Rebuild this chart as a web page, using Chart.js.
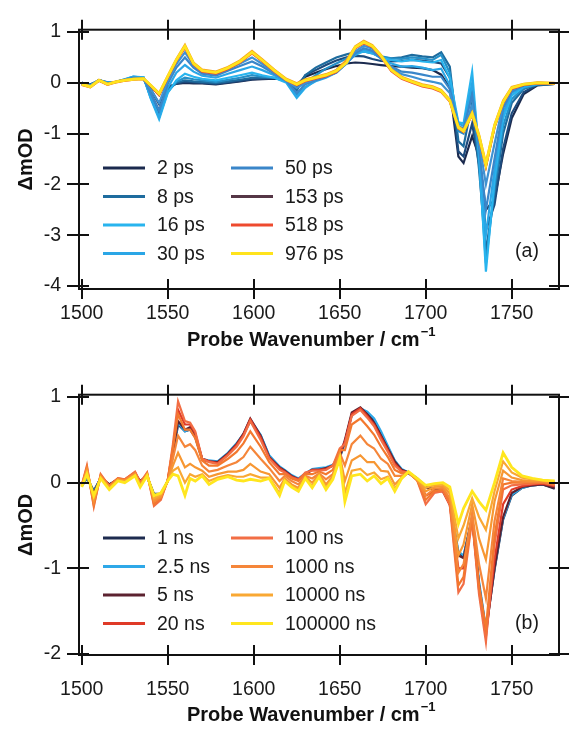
<!DOCTYPE html>
<html lang="en">
<head>
<meta charset="UTF-8">
<title>Transient IR spectra</title>
<style>
  html, body { margin: 0; padding: 0; background: #fff; }
  #wrap { width: 570px; height: 731px; }
  canvas { display: block; }
</style>
</head>
<body>
<div id="wrap">
  <canvas id="panelA" width="570" height="365"></canvas>
  <canvas id="panelB" width="570" height="366"></canvas>
</div>
<script src="https://cdn.jsdelivr.net/npm/chart.js@4.4.0/dist/chart.umd.min.js"></script>
<script>
// ---- panel (a): ps spectra ----
const wnA = [1500,1505,1510,1515,1520,1525,1530,1536,1540,1545,1550,1555,1560,1565,1570,1578,1585,1592,1599,1605,
             1612,1619,1625,1630,1636,1642,1648,1654,1659,1664,1669,1674,1680,1686,1692,1698,1704,1709,1714,1719,
             1722,1727,1731,1735,1740,1745,1750,1757,1765,1775];

const a_2ps   = [0.0,-0.03,0.04,0.0,0.02,0.06,0.11,0.07, -0.12,-0.42,-0.08,-0.02,0.0,-0.01,-0.01,-0.03,0.0,0.03,0.06,0.07,0.08,0.06,-0.04,0.12,0.2,0.27,0.33,0.38,0.4,0.39,0.37,0.35,0.33,0.32,0.3,0.29,0.25,0.16,-0.1,-1.45,-1.58,-1.05,-1.45,-2.5,-2.3,-1.4,-0.7,-0.22,-0.05,-0.02];
const a_5ps   = [0.0,-0.04,0.05,0.0,0.02,0.06,0.1,0.08, -0.2,-0.55,-0.12,-0.01,0.02,0.01,0.0,-0.02,0.01,0.04,0.07,0.08,0.09,0.06,-0.1,0.15,0.25,0.35,0.44,0.5,0.53,0.52,0.47,0.43,0.42,0.43,0.45,0.44,0.41,0.38,0.1,-1.35,-1.45,-0.8,-1.6,-2.9,-2.4,-1.3,-0.6,-0.18,-0.04,-0.02];
const a_8ps   = [0.0,-0.04,0.05,0.01,0.02,0.06,0.11,0.1, -0.25,-0.62,-0.15,0.0,0.05,0.03,0.02,0.0,0.03,0.06,0.1,0.1,0.1,0.05,-0.15,0.15,0.3,0.4,0.5,0.56,0.6,0.62,0.58,0.5,0.48,0.5,0.55,0.52,0.5,0.6,0.32,-1.15,-1.25,-0.4,-1.7,-3.3,-2.2,-1.0,-0.4,-0.12,-0.03,-0.02];
const a_12ps  = [0.0,-0.04,0.05,0.01,0.02,0.06,0.11,0.1, -0.28,-0.68,-0.18,0.02,0.1,0.07,0.05,0.02,0.06,0.1,0.15,0.12,0.1,0.02,-0.25,0.0,0.15,0.28,0.38,0.48,0.58,0.63,0.6,0.52,0.48,0.47,0.5,0.48,0.45,0.55,0.2,-0.95,-1.0,-0.1,-1.55,-3.55,-2.05,-0.85,-0.32,-0.1,-0.03,-0.02];
const a_16ps  = [-0.01,-0.05,0.05,0.0,0.02,0.07,0.12,0.11, -0.3,-0.72,-0.2,0.05,0.18,0.12,0.08,0.05,0.1,0.15,0.2,0.15,0.1,0.0,-0.3,-0.1,0.05,0.15,0.25,0.4,0.55,0.62,0.58,0.5,0.45,0.42,0.45,0.42,0.4,0.45,0.1,-0.78,-0.8,0.22,-1.4,-3.72,-1.9,-0.7,-0.25,-0.08,-0.02,-0.01];
const a_30ps  = [-0.01,-0.05,0.05,0.0,0.02,0.07,0.12,0.1, -0.28,-0.68,-0.1,0.2,0.35,0.22,0.14,0.1,0.18,0.25,0.32,0.25,0.15,0.02,-0.28,-0.08,0.03,0.1,0.2,0.38,0.56,0.65,0.6,0.48,0.38,0.32,0.33,0.3,0.25,0.28,-0.05,-0.8,-0.85,0.0,-1.35,-3.0,-1.7,-0.6,-0.2,-0.06,-0.02,-0.01];
const a_50ps  = [-0.02,-0.06,0.05,-0.01,0.02,0.06,0.1,0.09, -0.2,-0.55,-0.02,0.3,0.5,0.3,0.18,0.14,0.24,0.33,0.42,0.32,0.18,0.04,-0.2,-0.03,0.05,0.12,0.2,0.38,0.58,0.68,0.63,0.48,0.32,0.22,0.2,0.16,0.12,0.12,-0.12,-0.85,-0.9,-0.25,-1.25,-2.5,-1.5,-0.5,-0.17,-0.05,-0.01,-0.01];
const a_80ps  = [-0.02,-0.07,0.05,-0.02,0.02,0.05,0.08,0.08, -0.12,-0.4,0.05,0.37,0.6,0.35,0.22,0.17,0.27,0.38,0.5,0.37,0.2,0.05,-0.1,0.0,0.07,0.13,0.2,0.4,0.62,0.73,0.67,0.5,0.3,0.17,0.12,0.06,0.02,-0.02,-0.2,-0.88,-0.93,-0.45,-1.15,-2.0,-1.2,-0.42,-0.14,-0.04,-0.01,-0.01];
const a_153ps = [-0.03,-0.08,0.05,-0.03,0.02,0.05,0.07,0.08, -0.06,-0.24,0.11,0.44,0.7,0.37,0.23,0.19,0.28,0.42,0.59,0.43,0.23,0.06,-0.04,0.04,0.09,0.14,0.22,0.42,0.69,0.79,0.71,0.52,0.25,0.1,0.02,-0.05,-0.09,-0.16,-0.35,-0.89,-0.96,-0.62,-1.06,-1.64,-0.87,-0.39,-0.11,-0.04,0.0,-0.01];
const a_300ps = [-0.02,-0.07,0.06,-0.02,0.03,0.06,0.08,0.09, -0.04,-0.2,0.14,0.47,0.75,0.4,0.26,0.22,0.31,0.44,0.63,0.46,0.26,0.08,-0.01,0.07,0.12,0.17,0.25,0.45,0.72,0.83,0.74,0.55,0.27,0.12,0.04,-0.03,-0.07,-0.14,-0.33,-0.86,-0.93,-0.58,-1.02,-1.58,-0.82,-0.35,-0.08,-0.02,0.01,0.0];
const a_518ps = [-0.04,-0.09,0.04,-0.04,0.01,0.04,0.06,0.07, -0.06,-0.24,0.1,0.43,0.69,0.36,0.22,0.18,0.27,0.4,0.58,0.42,0.22,0.05,-0.05,0.03,0.08,0.13,0.21,0.41,0.68,0.78,0.7,0.51,0.23,0.08,0.0,-0.07,-0.11,-0.18,-0.37,-0.9,-0.97,-0.63,-1.08,-1.66,-0.88,-0.4,-0.12,-0.04,-0.01,-0.02];
const a_976ps = [-0.03,-0.08,0.05,-0.03,0.02,0.05,0.07,0.08, -0.05,-0.22,0.12,0.45,0.72,0.38,0.24,0.2,0.29,0.42,0.6,0.44,0.24,0.06,-0.03,0.05,0.1,0.15,0.23,0.4,0.7,0.8,0.72,0.53,0.25,0.1,0.02,-0.05,-0.09,-0.16,-0.35,-0.88,-0.95,-0.61,-1.05,-1.62,-0.85,-0.38,-0.1,-0.03,0.0,-0.01];

const delaysA = ['2 ps','5 ps','8 ps','12 ps','16 ps','30 ps','50 ps','80 ps','153 ps','300 ps','518 ps','976 ps'];
const valuesA = [a_2ps,a_5ps,a_8ps,a_12ps,a_16ps,a_30ps,a_50ps,a_80ps,a_153ps,a_300ps,a_518ps,a_976ps];
const colorsA = ['#1b2a4e','#1d4a7c','#1e6c9e','#2590c8','#28b4ee','#2aa6e6','#3a86c9','#3f92d2','#553646','#f6a21c','#ee4a2e','#ffe31c'];
const legendA = ['2 ps','8 ps','16 ps','30 ps','50 ps','153 ps','518 ps','976 ps'];
const yTicksA = [-4,-3,-2,-1,0,1];

// ---- panel (b): ns spectra ----
const wnB = [1500,1503,1507,1511,1516,1521,1525,1531,1534,1538,1542,1546,1550,1553,1556,1560,1563,1566,1570,1574,
             1579,1585,1590,1594,1598,1604,1609,1615,1618,1622,1626,1630,1634,1638,1642,1646,1650,1653,1657,1662,
             1666,1670,1674,1678,1682,1686,1690,1695,1700,1705,1710,1714,1719,1722,1727,1731,1735,1740,1745,1750,
             1756,1762,1768,1775];

const b_1ns      = [-0.04,0.05,-0.09,0.05,-0.02,0.03,0.03,0.08,0.02,0.07,-0.13,-0.13,0.02,0.32,0.68,0.6,0.62,0.53,0.27,0.25,0.24,0.34,0.45,0.56,0.72,0.55,0.31,0.18,0.14,0.08,0.04,0.1,0.15,0.16,0.17,0.2,0.29,0.47,0.79,0.86,0.81,0.72,0.57,0.41,0.25,0.15,0.11,0.04,-0.05,-0.08,-0.1,-0.24,-0.82,-0.86,-0.42,-1.18,-1.72,-1.02,-0.43,-0.15,-0.06,-0.03,-0.02,-0.07];
const b_2_5ns    = [-0.04,0.06,-0.1,0.05,-0.02,0.04,0.03,0.09,0.02,0.07,-0.14,-0.14,0.02,0.33,0.7,0.6,0.63,0.54,0.28,0.26,0.25,0.35,0.46,0.57,0.74,0.56,0.32,0.19,0.15,0.09,0.05,0.11,0.16,0.17,0.18,0.21,0.3,0.48,0.8,0.87,0.83,0.75,0.6,0.43,0.26,0.16,0.12,0.05,-0.04,-0.07,-0.09,-0.22,-0.8,-0.85,-0.4,-1.15,-1.7,-1.0,-0.42,-0.14,-0.06,-0.03,-0.02,-0.05];
const b_5ns      = [-0.03,0.08,-0.12,0.06,-0.02,0.04,0.03,0.1,0.02,0.08,-0.15,-0.15,0.02,0.35,0.72,0.62,0.65,0.55,0.28,0.25,0.24,0.34,0.45,0.57,0.75,0.55,0.3,0.18,0.14,0.08,0.04,0.1,0.15,0.15,0.17,0.2,0.3,0.5,0.82,0.88,0.8,0.7,0.55,0.4,0.25,0.15,0.12,0.05,-0.05,-0.08,-0.1,-0.25,-0.85,-0.88,-0.4,-1.2,-1.75,-1.0,-0.4,-0.12,-0.05,-0.03,-0.02,-0.06];
const b_20ns     = [-0.03,0.14,-0.2,0.08,-0.03,0.05,0.04,0.12,0.01,0.1,-0.2,-0.17,0.03,0.4,0.85,0.68,0.68,0.58,0.28,0.25,0.23,0.33,0.44,0.56,0.74,0.53,0.29,0.17,0.13,0.07,0.04,0.11,0.15,0.15,0.16,0.2,0.35,0.48,0.8,0.87,0.78,0.68,0.53,0.38,0.22,0.14,0.12,0.04,-0.15,-0.1,-0.1,-0.26,-1.0,-1.0,-0.42,-1.25,-1.8,-0.9,-0.25,-0.08,-0.04,-0.02,-0.01,-0.04];
const b_100ns    = [-0.03,0.2,-0.28,0.1,-0.04,0.05,0.04,0.13,0.0,0.12,-0.27,-0.2,0.03,0.45,0.95,0.72,0.7,0.6,0.28,0.24,0.22,0.32,0.42,0.54,0.72,0.5,0.28,0.15,0.12,0.06,0.03,0.12,0.14,0.14,0.15,0.2,0.4,0.45,0.78,0.85,0.76,0.66,0.5,0.36,0.2,0.13,0.12,0.03,-0.25,-0.12,-0.1,-0.26,-1.28,-1.18,-0.43,-1.3,-1.86,-0.72,-0.08,-0.03,-0.02,-0.01,0.0,-0.03];
const b_300ns    = [-0.03,0.18,-0.26,0.09,-0.04,0.05,0.03,0.12,-0.01,0.11,-0.25,-0.18,0.03,0.4,0.8,0.62,0.62,0.52,0.26,0.2,0.2,0.28,0.36,0.46,0.6,0.42,0.24,0.1,0.1,0.05,0.02,0.1,0.1,0.13,0.1,0.15,0.38,0.38,0.68,0.75,0.66,0.56,0.42,0.3,0.15,0.11,0.12,0.03,-0.2,-0.1,-0.08,-0.22,-1.2,-1.1,-0.4,-1.2,-1.7,-0.62,-0.02,0.0,0.0,0.0,0.0,-0.02];
const b_1000ns   = [-0.04,0.16,-0.23,0.08,-0.05,0.04,0.03,0.11,-0.02,0.1,-0.22,-0.17,0.02,0.28,0.55,0.42,0.45,0.38,0.2,0.13,0.15,0.2,0.24,0.3,0.42,0.28,0.17,0.02,0.08,0.02,-0.02,0.08,0.05,0.11,0.04,0.1,0.35,0.2,0.45,0.55,0.45,0.4,0.28,0.22,0.08,0.08,0.12,0.03,-0.15,-0.07,-0.06,-0.18,-1.05,-0.95,-0.35,-0.95,-1.35,-0.45,0.05,0.02,0.01,0.01,0.01,-0.01];
const b_3000ns   = [-0.04,0.14,-0.2,0.07,-0.06,0.04,0.02,0.1,-0.03,0.1,-0.2,-0.16,0.02,0.2,0.35,0.18,0.22,0.18,0.14,0.07,0.1,0.13,0.13,0.15,0.22,0.13,0.1,-0.06,0.05,-0.02,-0.06,0.07,0.0,0.1,-0.02,0.08,0.32,0.02,0.26,0.32,0.24,0.24,0.14,0.13,-0.02,0.06,0.12,0.03,-0.1,-0.05,-0.04,-0.13,-0.85,-0.72,-0.25,-0.65,-0.9,-0.22,0.14,0.06,0.03,0.02,0.02,0.0];
const b_10000ns  = [-0.04,0.12,-0.17,0.06,-0.07,0.03,0.01,0.09,-0.04,0.09,-0.18,-0.14,0.02,0.14,0.18,0.0,0.1,0.07,0.1,0.02,0.06,0.09,0.07,0.07,0.1,0.06,0.06,-0.12,0.03,-0.04,-0.08,0.06,-0.04,0.08,-0.06,0.06,0.3,-0.12,0.14,0.16,0.09,0.12,0.04,0.07,-0.07,0.05,0.12,0.04,-0.06,-0.03,-0.02,-0.09,-0.65,-0.5,-0.18,-0.4,-0.55,-0.1,0.25,0.12,0.06,0.04,0.03,0.01];
const b_100000ns = [-0.05,0.1,-0.15,0.05,-0.08,0.02,0.0,0.08,-0.05,0.08,-0.15,-0.12,0.02,0.1,0.08,-0.15,0.05,0.02,0.08,-0.02,0.04,0.07,0.03,0.02,0.04,0.02,0.05,-0.15,0.02,-0.05,-0.1,0.05,-0.06,0.07,-0.08,0.04,0.28,-0.22,0.08,0.1,0.02,0.08,-0.01,0.05,-0.1,0.05,0.13,0.05,-0.03,-0.01,0.0,-0.05,-0.48,-0.3,-0.1,-0.22,-0.32,0.0,0.35,0.18,0.08,0.05,0.03,0.02];

const delaysB = ['1 ns','2.5 ns','5 ns','20 ns','100 ns','300 ns','1000 ns','3000 ns','10000 ns','100000 ns'];
const valuesB = [b_1ns,b_2_5ns,b_5ns,b_20ns,b_100ns,b_300ns,b_1000ns,b_3000ns,b_10000ns,b_100000ns];
const colorsB = ['#1d2b4f','#2ea8e8','#5c2230','#df3a28','#f26e45','#f3782e','#f5863a','#f79732','#f9a833','#ffe61e'];
const legendB = ['1 ns','2.5 ns','5 ns','20 ns','100 ns','1000 ns','10000 ns','100000 ns'];
const yTicksB = [-2,-1,0,1];

const xTicks = [1500,1550,1600,1650,1700,1750];

const FONT = '"Liberation Sans", Arial, Helvetica, sans-serif';

// box frame with Igor-style crossing ticks, titles, legend and panel tag
const framePlugin = {
  id: 'frame',
  afterDraw(chart, args, o) {
    const {ctx, chartArea: a, scales: {x, y}} = chart;
    ctx.save();
    ctx.strokeStyle = '#111';
    ctx.lineWidth = 2;
    ctx.strokeRect(a.left, a.top, a.right - a.left, a.bottom - a.top);
    ctx.beginPath();
    xTicks.forEach(v => {
      const p = Math.round(x.getPixelForValue(v));
      ctx.moveTo(p, a.top - 10); ctx.lineTo(p, a.top + 10);
      ctx.moveTo(p, a.bottom - 10); ctx.lineTo(p, a.bottom + 10);
    });
    o.yTicks.forEach(v => {
      const p = Math.round(y.getPixelForValue(v));
      ctx.moveTo(a.left - 12, p); ctx.lineTo(a.left + 10, p);
      ctx.moveTo(a.right - 10, p); ctx.lineTo(a.right + 10, p);
    });
    ctx.stroke();

    ctx.fillStyle = '#111';
    ctx.textBaseline = 'middle';

    // x title with superscript
    ctx.font = 'bold 20px ' + FONT;
    ctx.textAlign = 'left';
    const t = 'Probe Wavenumber / cm';
    ctx.fillText(t, 187, o.titleY);
    const w = ctx.measureText(t).width;
    ctx.font = 'bold 13px ' + FONT;
    ctx.fillText('\u22121', 187 + w + 1, o.titleY - 8);

    // y title
    ctx.save();
    ctx.translate(26, (a.top + a.bottom) / 2);
    ctx.rotate(-Math.PI / 2);
    ctx.textAlign = 'center';
    ctx.font = 'bold 20px ' + FONT;
    ctx.fillText('\u0394mOD', 0, 0);
    ctx.restore();

    // legend, two columns of four
    ctx.font = '19.5px ' + FONT;
    ctx.textAlign = 'left';
    o.legend.forEach((name, i) => {
      const col = Math.floor(i / 4), row = i % 4;
      const ly = o.legendY + row * 28.5;
      const lx = col === 0 ? 103 : 231;
      ctx.strokeStyle = o.colors[o.delays.indexOf(name)];
      ctx.lineWidth = 3;
      ctx.beginPath();
      ctx.moveTo(lx, ly); ctx.lineTo(lx + 42, ly);
      ctx.stroke();
      ctx.fillStyle = '#1a1a1a';
      ctx.fillText(name, lx + 54, ly + 1);
    });

    ctx.textAlign = 'center';
    ctx.fillText(o.tag, 527, o.tagY);
    ctx.restore();
  }
};

function makePanel(id, wn, delays, values, colors, legend, yTicks, yMin, yMax, padTop, tickPad, extra) {
  const last = values.length - 1;
  const datasets = values.map((vals, i) => ({
    label: delays[i],
    data: wn.map((w, k) => ({x: w, y: vals[k]})),
    borderColor: colors[i],
    borderWidth: i === last ? 2.8 : 2.2,
    pointRadius: 0,
    tension: 0,
    order: values.length - i
  }));
  const canvas = document.getElementById(id);
  return new Chart(canvas, {
    type: 'line',
    data: {datasets: datasets},
    options: {
      responsive: false,
      animation: false,
      events: [],
      layout: {padding: {top: padTop, right: 11, bottom: 0, left: 0}},
      scales: {
        x: {
          type: 'linear',
          min: 1498.4,
          max: 1777.5,
          afterBuildTicks: s => { s.ticks = xTicks.map(v => ({value: v})); },
          afterFit: s => { s.height = canvas.height - extra.bottom; },
          grid: {display: false, drawTicks: false, tickLength: 0},
          border: {display: false},
          ticks: {
            font: {family: FONT, size: 19.5},
            color: '#1a1a1a',
            padding: tickPad,
            maxRotation: 0,
            autoSkip: false,
            callback: v => String(v)
          }
        },
        y: {
          min: yMin,
          max: yMax,
          afterBuildTicks: s => { s.ticks = yTicks.map(v => ({value: v})); },
          afterFit: s => { s.width = 79; },
          grid: {display: false, drawTicks: false, tickLength: 0},
          border: {display: false},
          ticks: {
            font: {family: FONT, size: 19.5},
            color: '#1a1a1a',
            padding: 18,
            callback: v => String(v)
          }
        }
      },
      plugins: {
        legend: {display: false},
        tooltip: {enabled: false},
        frame: {
          yTicks: yTicks,
          legend: legend,
          delays: delays,
          colors: colors,
          legendY: extra.legendY,
          titleY: extra.titleY,
          tag: extra.tag,
          tagY: extra.tagY
        }
      }
    },
    plugins: [framePlugin]
  });
}

makePanel('panelA', wnA, delaysA, valuesA, colorsA, legendA, yTicksA, -4.06, 1.046, 23, 12.6,
  {bottom: 289, legendY: 168, titleY: 340, tag: '(a)', tagY: 252});
makePanel('panelB', wnB, delaysB, valuesB, colorsB, legendB, yTicksB, -2.012, 1.028, 28, 22.6,
  {bottom: 290, legendY: 173, titleY: 350, tag: '(b)', tagY: 259});
</script>
</body>
</html>
